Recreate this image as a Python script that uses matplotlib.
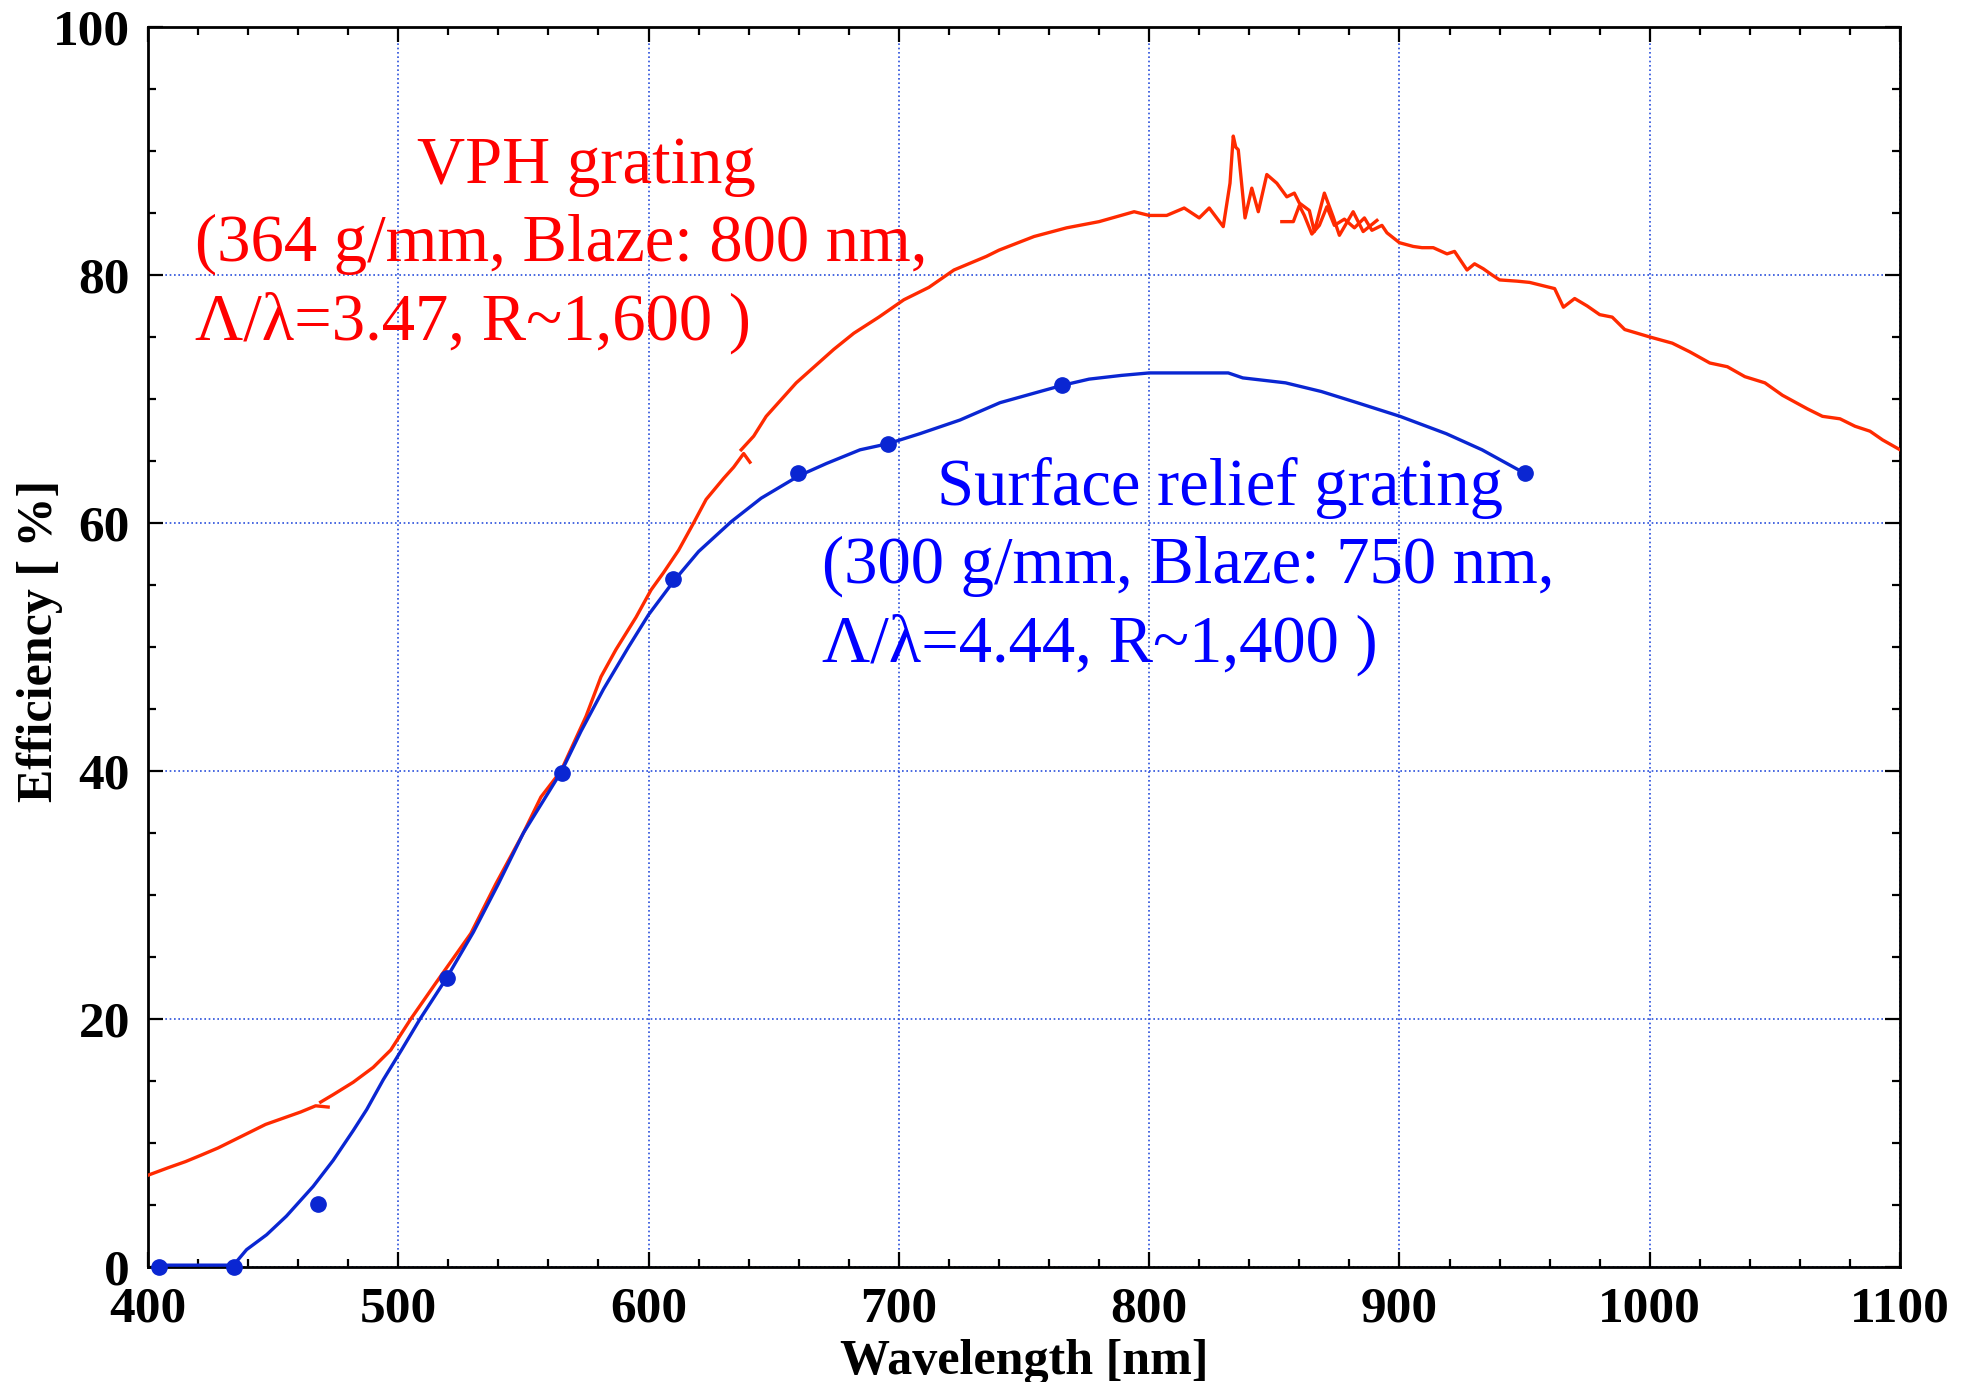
import matplotlib
matplotlib.use('Agg')
import matplotlib.pyplot as plt
from matplotlib.ticker import MultipleLocator

plt.rcParams['font.family'] = ['Liberation Serif', 'DejaVu Serif']

vph_a_nm = [400, 408, 415, 421, 428, 434, 441, 447, 454, 461, 467, 472]
vph_a_eff = [7.4, 8.0, 8.5, 9.0, 9.6, 10.2, 10.9, 11.5, 12.0, 12.5, 13.0, 12.9]

vph_b_nm = [469, 474, 482, 490, 497, 505, 515, 529, 539, 550, 557, 565, 575, 581, 587,
            595, 601, 606, 612, 618, 623, 630, 634, 638, 640.5]
vph_b_eff = [13.3, 13.9, 14.9, 16.1, 17.5, 20.0, 22.9, 26.9, 30.9, 35.0, 37.9, 40.0, 44.4, 47.6, 49.8,
             52.4, 54.6, 56.0, 57.8, 60.0, 61.9, 63.6, 64.5, 65.6, 64.9]

vph_c_nm = [637, 642, 647, 659, 674, 682, 692, 702, 712, 722, 735, 740, 754, 767, 780,
            794, 800, 807, 814, 820, 824, 829.6, 832.3, 833.6, 834.6, 835.6, 838.3, 841,
            843.6, 847, 851, 855, 858, 860, 864, 866, 870, 873.5, 876, 881.5, 885.5, 891]
vph_c_eff = [65.9, 67.0, 68.6, 71.3, 74.0, 75.3, 76.6, 78.0, 79.0, 80.4, 81.5, 82.0, 83.1, 83.8, 84.3,
             85.1, 84.8, 84.8, 85.4, 84.6, 85.4, 83.9, 87.4, 91.2, 90.3, 90.1, 84.6, 87.0,
             85.1, 88.1, 87.4, 86.3, 86.6, 85.8, 85.2, 83.5, 86.6, 84.7, 83.2, 85.1, 83.5, 84.4]

vph_d_nm = [853, 857.6, 860, 862, 865, 868, 871, 874, 878, 882, 886, 889, 893, 895, 900,
            905.5, 909, 913.5, 919, 922, 927, 930, 933.5, 937, 940, 947, 952, 958, 962,
            965.5, 970, 975, 980, 985, 990, 1000, 1009, 1016, 1024, 1031, 1038, 1046, 1053,
            1063, 1069, 1076, 1082, 1088, 1093, 1100]
vph_d_eff = [84.3, 84.3, 85.6, 84.8, 83.3, 84.0, 85.5, 84.0, 84.5, 83.8, 84.6, 83.6, 84.0, 83.4, 82.6,
             82.3, 82.2, 82.2, 81.7, 81.9, 80.4, 80.9, 80.5, 80.0, 79.6, 79.5, 79.4, 79.1, 78.9,
             77.4, 78.1, 77.5, 76.8, 76.6, 75.6, 75.0, 74.5, 73.8, 72.9, 72.6, 71.8, 71.3, 70.3,
             69.2, 68.6, 68.4, 67.8, 67.4, 66.7, 65.9]

# surface relief grating, fitted line and measured points
srg_nm = [404.5, 434.2, 439.4, 447.4, 455.3, 466.0, 474.0, 482.0, 487.4, 494.0, 501.3, 508.7,
          519.3, 530.0, 540.0, 550.0, 565.3, 573.0, 582.0, 592.0, 600.0, 610.0, 620.0, 633.0,
          645.0, 660.0, 671.1, 684.5, 695.8, 708.4, 724.4, 740.4, 754.6, 765.3, 776.0, 788.9,
          800.0, 831.6, 837.4, 854.5, 868.8, 883.1, 900.2, 918.7, 933.0, 950.1]
srg_eff = [0.15, 0.15, 1.4, 2.6, 4.1, 6.5, 8.6, 11.0, 12.7, 15.1, 17.5, 20.0,
           23.3, 27.0, 30.9, 35.0, 40.0, 43.2, 46.6, 50.0, 52.6, 55.3, 57.7, 60.1,
           62.0, 63.8, 64.8, 65.9, 66.4, 67.2, 68.3, 69.7, 70.5, 71.1, 71.6, 71.9,
           72.1, 72.1, 71.7, 71.3, 70.6, 69.7, 68.6, 67.2, 65.9, 64.0]

srg_pts_nm = [404.5, 434.2, 467.8, 519.4, 565.3, 609.9, 659.8, 695.5, 765.3, 950.3]
srg_pts_eff = [0.0, 0.0, 5.1, 23.3, 39.8, 55.5, 64.0, 66.4, 71.1, 64.0]

red_line = '#ff2a00'
blue_line = '#0a26d2'

fig = plt.figure(figsize=(19.7, 13.82), dpi=100)
ax = fig.add_axes([0.0751, 0.0832, 0.8894, 0.8973])

# VPH curve pieces
for xs, ys in [(vph_a_nm, vph_a_eff), (vph_b_nm, vph_b_eff),
               (vph_c_nm, vph_c_eff), (vph_d_nm, vph_d_eff)]:
    ax.plot(xs, ys, color=red_line, lw=2.4, zorder=3)

# surface relief grating
ax.plot(srg_nm, srg_eff, color=blue_line, lw=2.4, zorder=4)
ax.plot(srg_pts_nm, srg_pts_eff, 'o', color=blue_line, ms=11, zorder=5, clip_on=False)

ax.set_xlim(400, 1100)
ax.set_ylim(0, 100)
ax.xaxis.set_major_locator(MultipleLocator(100))
ax.xaxis.set_minor_locator(MultipleLocator(20))
ax.yaxis.set_major_locator(MultipleLocator(20))
ax.yaxis.set_minor_locator(MultipleLocator(5))

ax.grid(True, which='major', color='#2a4fdc', linestyle=(0, (1, 1.6)), lw=1.2)
ax.set_axisbelow(True)

ax.tick_params(which='both', direction='in', top=True, right=True, width=1.6, color='black')
ax.tick_params(which='major', length=11)
ax.tick_params(which='minor', length=6)
ax.tick_params(axis='x', labelsize=37, pad=14)
ax.tick_params(axis='y', labelsize=37, pad=13)
for lab in ax.get_xticklabels() + ax.get_yticklabels():
    lab.set_fontweight('bold')
for sp in ax.spines.values():
    sp.set_linewidth(2.0)

# axis labels
fig.text(0.5198, 0.006, 'Wavelength [nm]', ha='center', va='baseline',
         fontsize=36, fontweight='bold')
fig.text(0.0203, 0.536, 'Efficiency [ %]', ha='center', va='center', rotation=90,
         fontsize=36, fontweight='bold')

# annotations
ax.text(507.6, 87.4, 'VPH grating', color='#ff0000', fontsize=48, va='baseline')
ax.text(418.9, 81.2, '(364 g/mm, Blaze: 800 nm,', color='#ff0000', fontsize=48, va='baseline')
ax.text(418.9, 74.8, 'Λ/λ=3.47, R~1,600 )', color='#ff0000', fontsize=48, va='baseline')

ax.text(715.1, 61.45, 'Surface relief grating', color='#0000ff', fontsize=48, va='baseline')
ax.text(669.4, 55.2, '(300 g/mm, Blaze: 750 nm,', color='#0000ff', fontsize=48, va='baseline')
ax.text(669.4, 48.8, 'Λ/λ=4.44, R~1,400 )', color='#0000ff', fontsize=48, va='baseline')

fig.savefig('out.png', dpi=100)
